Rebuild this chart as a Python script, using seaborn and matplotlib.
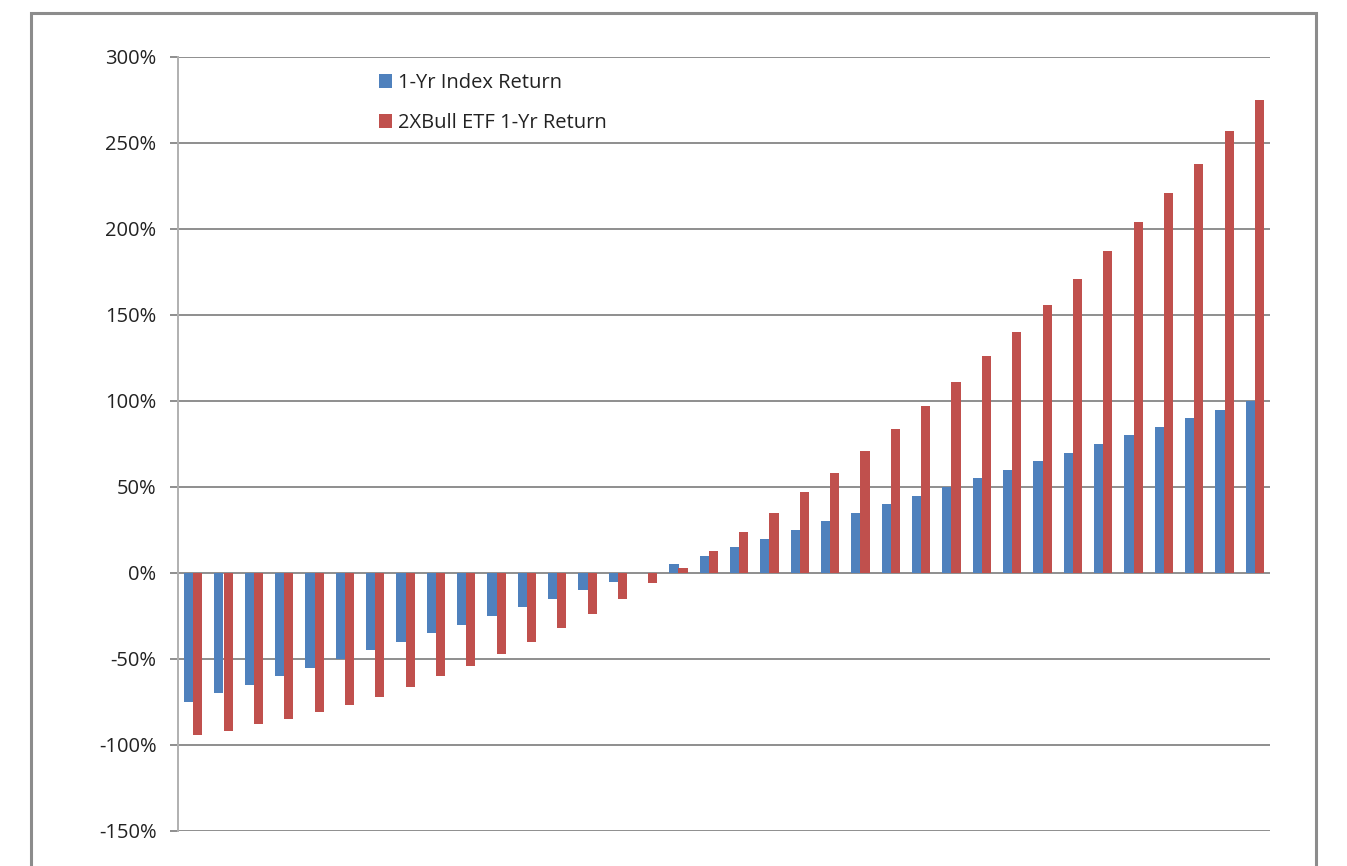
import matplotlib
matplotlib.use("Agg")
import matplotlib.pyplot as plt
from matplotlib.patches import Rectangle
from matplotlib.ticker import FuncFormatter
import pandas as pd
import seaborn as sns

# Index one-year returns (%) and the matching 2x bull ETF one-year returns (%)
index_return = [-75, -70, -65, -60, -55, -50, -45, -40, -35, -30, -25, -20,
                -15, -10, -5, 0, 5, 10, 15, 20, 25, 30, 35, 40, 45, 50, 55,
                60, 65, 70, 75, 80, 85, 90, 95, 100]
etf_return = [-94, -92, -88, -85, -81, -77, -72, -66, -60, -54, -47, -40,
              -32, -24, -15, -6, 3, 13, 24, 35, 47, 58, 71, 84, 97, 111, 126,
              140, 156, 171, 187, 204, 221, 238, 257, 275]
series_names = ["1-Yr Index Return", "2XBull ETF 1-Yr Return"]
y_ticks = [-150, -100, -50, 0, 50, 100, 150, 200, 250, 300]

scenario = [f"{v}%" for v in index_return]
df = pd.DataFrame({
    "scenario": scenario * 2,
    "value": index_return + etf_return,
    "series": [series_names[0]] * len(index_return) + [series_names[1]] * len(etf_return),
})

sns.set_theme(style="white")
plt.rcParams["font.family"] = ["Open Sans", "DejaVu Sans"]

W, H = 1347, 866
fig = plt.figure(figsize=(W / 100, H / 100), dpi=100)
fig.patch.set_facecolor("white")

# Chart-area border (the lower edge runs past the canvas)
fig.patches.append(Rectangle((31 / W, -0.05), (1316 - 31) / W, 1.05 - 13 / H,
                             transform=fig.transFigure, fill=False,
                             edgecolor="#8c8c8c", linewidth=2.2, zorder=0))

left, right, top, bottom = 178, 1270, 57, 831
ax = fig.add_axes([left / W, 1 - bottom / H, (right - left) / W, (bottom - top) / H])

sns.barplot(data=df, x="scenario", y="value", hue="series",
            palette=["#4F81BD", "#C0504D"], width=0.6, gap=0,
            saturation=1, linewidth=0, ax=ax, legend=True, zorder=3)

ax.set_ylim(-150, 300)
ax.set_xlim(-0.5, len(index_return) - 0.5)
ax.set_yticks(y_ticks)
ax.yaxis.set_major_formatter(FuncFormatter(lambda v, _: f"{v:.0f}%"))
ax.set_xticks([])
ax.set_xlabel("")
ax.set_ylabel("")

ax.grid(axis="y", color="#8e8e8e", linewidth=1.4, zorder=0)
ax.set_axisbelow(True)
for side in ["top", "right", "bottom"]:
    ax.spines[side].set_visible(False)
ax.spines["left"].set_color("#b0b0b0")
ax.spines["left"].set_linewidth(1.4)
ax.tick_params(axis="y", length=6, width=1.4, color="#8e8e8e",
               pad=9.5, labelsize=14.5, labelcolor="#222222", left=True)

leg = ax.legend(loc="upper left", bbox_to_anchor=(371 / W, 1 - 65 / H),
                bbox_transform=fig.transFigure, frameon=False,
                fontsize=14.5, handlelength=0.65, handleheight=0.65,
                handletextpad=0.3, labelspacing=1.0, borderaxespad=0)
for t in leg.get_texts():
    t.set_color("#222222")

fig.savefig("out.png", dpi=100, facecolor="white")
